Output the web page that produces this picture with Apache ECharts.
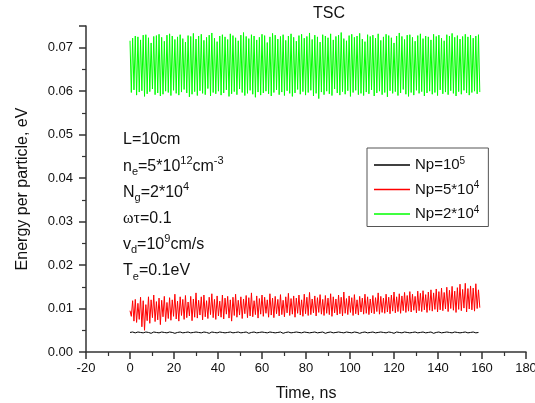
<!DOCTYPE html>
<html>
<head>
<meta charset="utf-8">
<script src="https://cdn.jsdelivr.net/npm/echarts@6/dist/echarts.min.js"></script>
<style>
  html, body { margin: 0; padding: 0; background: #fff; }
  #chart { width: 535px; height: 403px; }
</style>
</head>
<body>
<div id="chart"></div>
<script>
// sampling grid of the simulation output (ns)
var dtFine = 0.6
var dtBlack = 1.2

// Np = 2*10^4 (green)
var greenE = [
  0.0716,0.0597,0.0722,0.0603,0.0727,0.0591,0.0725,0.0598,0.0718,0.0601,
  0.0729,0.0588,0.0730,0.0594,0.0723,0.0599,0.0711,0.0605,0.0726,0.0592,
  0.0728,0.0596,0.0731,0.0589,0.0724,0.0593,0.0715,0.0600,0.0729,0.0597,
  0.0732,0.0590,0.0727,0.0602,0.0719,0.0595,0.0725,0.0591,0.0730,0.0598,
  0.0721,0.0604,0.0713,0.0596,0.0728,0.0587,0.0726,0.0593,0.0733,0.0599,
  0.0720,0.0590,0.0727,0.0601,0.0731,0.0595,0.0717,0.0592,0.0724,0.0606,
  0.0729,0.0589,0.0734,0.0597,0.0722,0.0594,0.0714,0.0600,0.0727,0.0591,
  0.0730,0.0596,0.0725,0.0603,0.0719,0.0588,0.0732,0.0594,0.0728,0.0599,
  0.0723,0.0592,0.0716,0.0605,0.0729,0.0597,0.0735,0.0590,0.0726,0.0595,
  0.0721,0.0602,0.0730,0.0593,0.0727,0.0586,0.0718,0.0598,0.0724,0.0591,
  0.0731,0.0596,0.0728,0.0600,0.0712,0.0594,0.0725,0.0589,0.0733,0.0597,
  0.0729,0.0603,0.0720,0.0592,0.0726,0.0598,0.0730,0.0590,0.0717,0.0601,
  0.0727,0.0595,0.0732,0.0588,0.0724,0.0596,0.0715,0.0604,0.0728,0.0593,
  0.0731,0.0599,0.0722,0.0591,0.0726,0.0597,0.0734,0.0602,0.0719,0.0589,
  0.0729,0.0595,0.0725,0.0583,0.0713,0.0598,0.0730,0.0592,0.0727,0.0600,
  0.0723,0.0594,0.0732,0.0590,0.0718,0.0605,0.0726,0.0596,0.0729,0.0591,
  0.0735,0.0599,0.0721,0.0593,0.0716,0.0601,0.0728,0.0588,0.0731,0.0597,
  0.0724,0.0602,0.0727,0.0592,0.0733,0.0595,0.0720,0.0590,0.0714,0.0598,
  0.0730,0.0594,0.0726,0.0603,0.0729,0.0589,0.0722,0.0596,0.0732,0.0600,
  0.0717,0.0592,0.0725,0.0597,0.0731,0.0587,0.0728,0.0601,0.0723,0.0595,
  0.0711,0.0599,0.0727,0.0590,0.0734,0.0596,0.0726,0.0604,0.0719,0.0593,
  0.0729,0.0588,0.0730,0.0597,0.0724,0.0591,0.0715,0.0602,0.0728,0.0595,
  0.0732,0.0599,0.0721,0.0589,0.0727,0.0596,0.0725,0.0600,0.0718,0.0593,
  0.0731,0.0597,0.0726,0.0590,0.0729,0.0603,0.0722,0.0594,0.0716,0.0598,
  0.0730,0.0592,0.0727,0.0601,0.0733,0.0595,0.0724,0.0589,0.0728,0.0599,
  0.0720,0.0593,0.0726,0.0602,0.0731,0.0596,0.0725,0.0591,0.0729,0.0597,
  0.0722,0.0600,0.0727,0.0594,0.0730,0.0598
]

// Np = 5*10^4 (red)
var redE = [
  0.0095,0.0082,0.0118,0.0071,0.0121,0.0068,0.0112,0.0075,0.0126,0.0058,
  0.0118,0.0050,0.0109,0.0072,0.0127,0.0066,0.0120,0.0079,0.0131,0.0070,
  0.0116,0.0074,0.0124,0.0063,0.0119,0.0081,0.0128,0.0070,0.0114,0.0077,
  0.0125,0.0073,0.0120,0.0082,0.0133,0.0076,0.0117,0.0071,0.0127,0.0084,
  0.0121,0.0075,0.0130,0.0079,0.0115,0.0083,0.0128,0.0072,0.0122,0.0080,
  0.0136,0.0078,0.0119,0.0085,0.0127,0.0074,0.0131,0.0081,0.0118,0.0077,
  0.0126,0.0086,0.0134,0.0079,0.0121,0.0075,0.0129,0.0083,0.0117,0.0080,
  0.0131,0.0076,0.0124,0.0087,0.0128,0.0078,0.0120,0.0071,0.0126,0.0084,
  0.0133,0.0080,0.0119,0.0085,0.0127,0.0077,0.0122,0.0088,0.0130,0.0079,
  0.0125,0.0083,0.0136,0.0081,0.0118,0.0086,0.0129,0.0078,0.0123,0.0087,
  0.0131,0.0082,0.0126,0.0089,0.0120,0.0080,0.0134,0.0085,0.0124,0.0079,
  0.0128,0.0088,0.0121,0.0083,0.0132,0.0086,0.0119,0.0081,0.0127,0.0090,
  0.0135,0.0084,0.0123,0.0087,0.0129,0.0080,0.0124,0.0089,0.0131,0.0085,
  0.0120,0.0082,0.0133,0.0088,0.0126,0.0084,0.0137,0.0086,0.0122,0.0090,
  0.0129,0.0083,0.0125,0.0091,0.0132,0.0087,0.0121,0.0084,0.0130,0.0089,
  0.0124,0.0086,0.0134,0.0082,0.0127,0.0090,0.0122,0.0085,0.0131,0.0088,
  0.0126,0.0083,0.0138,0.0089,0.0123,0.0086,0.0129,0.0091,0.0125,0.0084,
  0.0132,0.0088,0.0120,0.0085,0.0128,0.0092,0.0124,0.0087,0.0133,0.0089,
  0.0127,0.0086,0.0122,0.0090,0.0130,0.0088,0.0125,0.0093,0.0136,0.0087,
  0.0128,0.0091,0.0124,0.0089,0.0133,0.0092,0.0126,0.0088,0.0131,0.0094,
  0.0138,0.0090,0.0127,0.0093,0.0134,0.0089,0.0129,0.0095,0.0137,0.0091,
  0.0130,0.0094,0.0139,0.0092,0.0133,0.0096,0.0128,0.0090,0.0140,0.0095,
  0.0135,0.0093,0.0141,0.0097,0.0132,0.0091,0.0138,0.0096,0.0143,0.0094,
  0.0136,0.0098,0.0145,0.0092,0.0139,0.0097,0.0147,0.0095,0.0137,0.0099,
  0.0149,0.0093,0.0142,0.0100,0.0151,0.0096,0.0140,0.0091,0.0148,0.0098,
  0.0156,0.0095,0.0144,0.0101,0.0158,0.0092,0.0146,0.0099,0.0152,0.0097,
  0.0147,0.0094,0.0157,0.0100,0.0143,0.0102
]

// Np = 10^5 (black)
var blackE = [
  0.0045,0.0046,0.0044,0.0046,0.0045,0.0044,0.0046,0.0045,0.0043,0.0046,
  0.0045,0.0044,0.0046,0.0045,0.0044,0.0046,0.0045,0.0043,0.0045,0.0046,
  0.0044,0.0045,0.0046,0.0044,0.0045,0.0046,0.0045,0.0044,0.0046,0.0045,
  0.0043,0.0046,0.0045,0.0044,0.0046,0.0045,0.0044,0.0045,0.0046,0.0044,
  0.0045,0.0046,0.0044,0.0045,0.0046,0.0043,0.0045,0.0046,0.0044,0.0045,
  0.0046,0.0045,0.0044,0.0046,0.0045,0.0044,0.0045,0.0046,0.0043,0.0045,
  0.0046,0.0044,0.0045,0.0046,0.0045,0.0044,0.0046,0.0045,0.0044,0.0045,
  0.0046,0.0044,0.0045,0.0046,0.0043,0.0045,0.0046,0.0044,0.0045,0.0046,
  0.0045,0.0044,0.0046,0.0045,0.0044,0.0046,0.0045,0.0043,0.0045,0.0046,
  0.0044,0.0045,0.0046,0.0044,0.0045,0.0046,0.0045,0.0044,0.0046,0.0045,
  0.0043,0.0046,0.0045,0.0044,0.0046,0.0045,0.0044,0.0045,0.0046,0.0044,
  0.0045,0.0046,0.0044,0.0045,0.0046,0.0043,0.0045,0.0046,0.0044,0.0045,
  0.0046,0.0045,0.0044,0.0046,0.0045,0.0044,0.0045,0.0046,0.0044,0.0045,
  0.0046,0.0044,0.0045
]

var seriesNames = ['Np=10^5', 'Np=5*10^4', 'Np=2*10^4']
var seriesColors = ['#000000', '#ff0000', '#00ff00']
var legendRich = {
  'Np=10^5': '{a|Np=10}{p|5}',
  'Np=5*10^4': '{a|Np=5*10}{p|4}',
  'Np=2*10^4': '{a|Np=2*10}{p|4}'
}

var FONT = 'Liberation Sans, Arial, sans-serif'

function pairs (values, dt) {
  return values.map(function (v, i) { return [+(i * dt).toFixed(2), v] })
}

var chartDom = document.getElementById('chart')
var myChart = echarts.init(chartDom)
var option

var textRich = {
  a: { fontSize: 16, fontFamily: FONT, fill: '#111', lineHeight: 22 },
  s: { fontSize: 11, fontFamily: FONT, fill: '#111', lineHeight: 11, verticalAlign: 'bottom' },
  p: { fontSize: 11, fontFamily: FONT, fill: '#111', lineHeight: 11, verticalAlign: 'top' },
  g: { fontSize: 16, fontFamily: 'Liberation Serif, Times New Roman, serif', fill: '#111', lineHeight: 22 }
}

var notes = [
  '{a|L=10cm}',
  '{a|n}{s|e}{a|=5*10}{p|12}{a|cm}{p|-3}',
  '{a|N}{s|g}{a|=2*10}{p|4}',
  '{g|ωτ}{a|=0.1}',
  '{a|v}{s|d}{a|=10}{p|9}{a|cm/s}',
  '{a|T}{s|e}{a|=0.1eV}'
]

option = {
  animation: false,
  title: {
    text: 'TSC',
    left: 313,
    top: 6,
    padding: 0,
    textStyle: { fontFamily: FONT, fontSize: 16, fontWeight: 'normal', color: '#111' }
  },
  grid: { left: 86, right: 9, top: 26, bottom: 51, containLabel: false, outerBoundsMode: 'none' },
  legend: {
    data: seriesNames.map(function (n, i) {
      return { name: n, icon: 'rect', itemStyle: { color: seriesColors[i], borderWidth: 0 } }
    }),
    orient: 'vertical',
    left: 367,
    top: 148,
    padding: [8, 9, 5, 7],
    itemGap: 8,
    itemWidth: 36,
    itemHeight: 1.5,
    borderColor: '#555',
    borderWidth: 1,
    formatter: function (name) { return legendRich[name] },
    textStyle: {
      fontFamily: FONT,
      color: '#111',
      rich: {
        a: { fontSize: 15, fontFamily: FONT, color: '#111', lineHeight: 18 },
        p: { fontSize: 10, fontFamily: FONT, color: '#111', lineHeight: 10, verticalAlign: 'top' }
      }
    }
  },
  xAxis: {
    type: 'value',
    min: -20,
    max: 180,
    interval: 20,
    name: 'Time, ns',
    nameLocation: 'middle',
    nameGap: 34,
    nameTextStyle: { fontFamily: FONT, fontSize: 16, color: '#111' },
    splitLine: { show: false },
    axisLine: { onZero: false, lineStyle: { color: '#333', width: 1.5 } },
    axisTick: { length: 7, lineStyle: { color: '#333', width: 1.5 } },
    minorTick: { show: true, splitNumber: 2, length: 4, lineStyle: { color: '#333', width: 1.2 } },
    axisLabel: { fontFamily: FONT, fontSize: 13, color: '#111', margin: 10 }
  },
  yAxis: {
    type: 'value',
    min: 0,
    max: 0.075,
    interval: 0.01,
    name: 'Energy per particle, eV',
    nameLocation: 'middle',
    nameGap: 55,
    nameTextStyle: { fontFamily: FONT, fontSize: 16, color: '#111' },
    splitLine: { show: false },
    axisLine: { show: true, onZero: false, lineStyle: { color: '#333', width: 1.5 } },
    axisTick: { show: true, length: 7, lineStyle: { color: '#333', width: 1.5 } },
    minorTick: { show: true, splitNumber: 2, length: 4, lineStyle: { color: '#333', width: 1.2 } },
    axisLabel: {
      fontFamily: FONT,
      fontSize: 13,
      color: '#111',
      margin: 13,
      showMaxLabel: false,
      formatter: function (v) { return v.toFixed(2) }
    }
  },
  graphic: notes.map(function (t, i) {
    return {
      type: 'text',
      x: 123,
      y: 140 + i * 26.2,
      silent: true,
      style: { text: t, rich: textRich, verticalAlign: 'middle', font: '16px ' + FONT, fill: '#111' }
    }
  }),
  series: [
    {
      name: seriesNames[2],
      type: 'line',
      symbol: 'none',
      color: seriesColors[2],
      lineStyle: { width: 1, color: seriesColors[2] },
      data: pairs(greenE, dtFine)
    },
    {
      name: seriesNames[1],
      type: 'line',
      symbol: 'none',
      color: seriesColors[1],
      lineStyle: { width: 1, color: seriesColors[1] },
      data: pairs(redE, dtFine)
    },
    {
      name: seriesNames[0],
      type: 'line',
      symbol: 'none',
      color: seriesColors[0],
      lineStyle: { width: 1, color: seriesColors[0] },
      data: pairs(blackE, dtBlack)
    }
  ]
}

option && myChart.setOption(option)
</script>
</body>
</html>
